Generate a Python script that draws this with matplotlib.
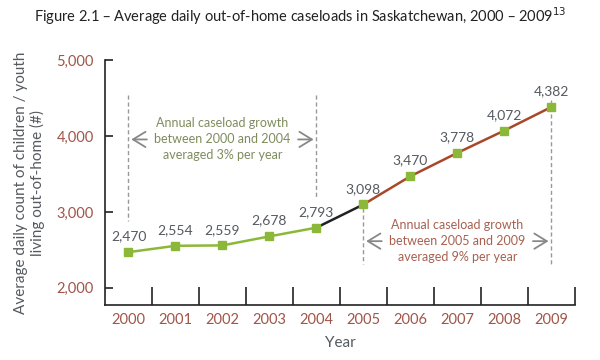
import matplotlib.pyplot as plt
import numpy as np

plt.rcParams['font.family'] = ['Lato', 'DejaVu Sans']

years = ['2000', '2001', '2002', '2003', '2004', '2005', '2006', '2007', '2008', '2009']
caseloads = [2470, 2554, 2559, 2678, 2793, 3098, 3470, 3778, 4072, 4382]
yticks = [2000, 3000, 4000, 5000]

green = '#8cb83a'
brown = '#a8482a'
tick_col = '#a05548'
label_col = '#555a60'

fig = plt.figure(figsize=(6, 3.6), dpi=100)
ax = fig.add_axes([0.175, 0.153, 0.783, 0.68])

x = np.arange(len(years))
ax.plot(x[:5], caseloads[:5], color=green, lw=1.8, zorder=2)
ax.plot(x[4:6], caseloads[4:6], color='#222222', lw=1.8, zorder=2)
ax.plot(x[5:], caseloads[5:], color=brown, lw=1.8, zorder=2)
ax.plot(x, caseloads, 's', color=green, ms=6, zorder=3)

for xi, v in zip(x, caseloads):
    ax.annotate(f'{v:,}', (xi, v), xytext=(0, 7), textcoords='offset points',
                ha='center', va='bottom', fontsize=10, color=label_col)

ax.set_xlim(-0.5, 9.5)
ax.set_ylim(1775, 5000)
ax.set_yticks(yticks)
ax.set_yticklabels([f'{t:,}' for t in yticks])
ax.set_xticks(x)
ax.set_xticklabels(years)
ax.set_xticks(np.arange(0.5, 10, 1), minor=True)
ax.tick_params(axis='x', which='major', length=0, colors=tick_col, labelsize=10.5, pad=6)
ax.tick_params(axis='x', which='minor', direction='in', length=13, width=1.2, color='#222222')
ax.tick_params(axis='y', direction='in', length=6, width=1.2, color='#222222',
               colors=tick_col, labelsize=10.5, pad=8)
for t in ax.get_yticklines():
    t.set_color('#222222')
for t in ax.xaxis.get_minorticklines():
    t.set_color('#222222')
ax.spines['top'].set_visible(False)
ax.spines['right'].set_visible(False)
for s in ['left', 'bottom']:
    ax.spines[s].set_linewidth(1.2)
    ax.spines[s].set_color('#222222')

ax.set_xlabel('Year', fontsize=11, color=label_col, labelpad=6)
ax.set_ylabel('Average daily count of children / youth\nliving out-of-home (#)',
              fontsize=11, color=label_col, labelpad=8)

fig.text(0.5, 0.955, 'Figure 2.1 \u2013 Average daily out-of-home caseloads in Saskatchewan, 2000 \u2013 2009$^{13}$',
         ha='center', va='center', fontsize=10.5, color='#222222')

# dashed guide lines
dash = dict(color='#999999', lw=1, ls=(0, (3, 2)))
ax.plot([0, 0], [4540, 2880], **dash)
ax.plot([4, 4], [4540, 3170], **dash)
ax.plot([5, 5], [3050, 2310], **dash)
ax.plot([9, 9], [4480, 2310], **dash)

arrow = dict(arrowstyle='->,head_length=0.9,head_width=0.55', color='#888888', lw=1.3)
ax.text(2, 3955, 'Annual caseload growth\nbetween 2000 and 2004\naveraged 3% per year',
        ha='center', va='center', fontsize=9, color='#7d8c5c', linespacing=1.4)
ax.annotate('', xy=(0, 3955), xytext=(0.45, 3955), arrowprops=arrow)
ax.annotate('', xy=(4, 3955), xytext=(3.55, 3955), arrowprops=arrow)

ax.text(7, 2615, 'Annual caseload growth\nbetween 2005 and 2009\naveraged 9% per year',
        ha='center', va='center', fontsize=9, color='#a86050', linespacing=1.4)
ax.annotate('', xy=(5, 2615), xytext=(5.45, 2615), arrowprops=arrow)
ax.annotate('', xy=(9, 2615), xytext=(8.55, 2615), arrowprops=arrow)

fig.savefig('out.png', dpi=100)
